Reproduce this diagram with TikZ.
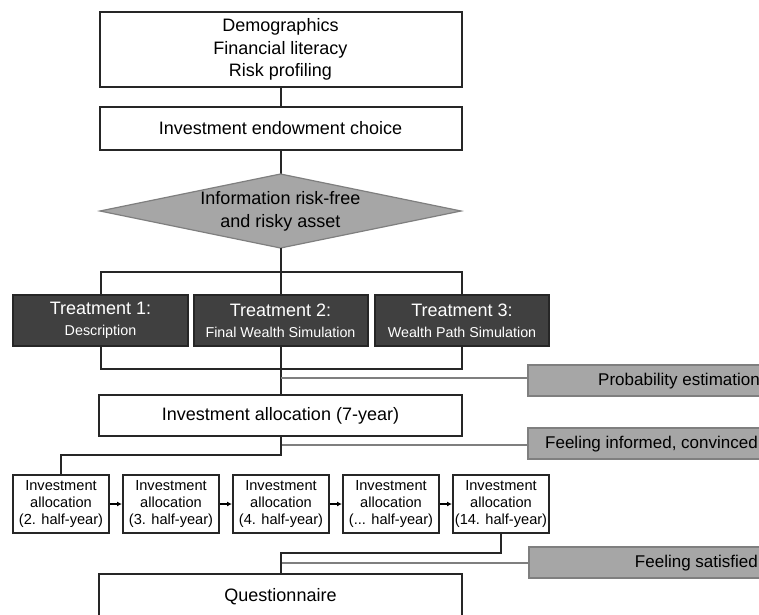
\documentclass[tikz,border=0pt]{standalone}
\usepackage{fontspec}
\setmainfont{Liberation Sans}
\usetikzlibrary{arrows.meta}
\definecolor{boxline}{HTML}{262626}
\definecolor{treatfill}{HTML}{404040}
\definecolor{greyfill}{HTML}{A6A6A6}
\definecolor{greyline}{HTML}{7F7F7F}
\begin{document}
\begin{tikzpicture}[x=1pt,y=-1pt,
  wbox/.style={draw=boxline,line width=2pt,fill=white,inner sep=0pt,align=center,
    font=\fontsize{18}{22.5}\selectfont},
  tbox/.style={draw=boxline,line width=2pt,fill=treatfill,text=white,inner sep=0pt,align=center,
    minimum width=174pt,minimum height=51pt,font=\fontsize{18}{22}\selectfont},
  sbox/.style={draw=boxline,line width=2pt,fill=white,inner sep=0pt,align=center,
    minimum width=96pt,minimum height=58pt,font=\fontsize{14.6}{17}\selectfont},
  gbox/.style={draw=greyline,line width=2pt,fill=greyfill,inner sep=0pt,
    minimum width=262pt,minimum height=31pt},
  gtext/.style={inner sep=0pt,anchor=east,font=\fontsize{17}{20}\selectfont},
  conn/.style={draw=boxline,line width=2pt},
  gconn/.style={draw=greyline,line width=2pt},
  arr/.style={draw=black,line width=2pt,-{Latex[length=5pt,width=5pt]}},
]
\clip (0,0) rectangle (759,614);
\fill[white] (0,0) rectangle (759,614);

\coordinate (infoT) at (280.5,174);
\coordinate (infoB) at (280.5,248);
\coordinate (brT) at (280.5,272);
\coordinate (brB) at (280.5,369);
\coordinate (c1) at (280.5,378);
\coordinate (c2) at (280.5,445);
\coordinate (j1) at (280.5,455);
\coordinate (j2) at (280.5,553);
\coordinate (c3) at (280.5,563);

\node[wbox,minimum width=362pt,minimum height=75pt] (demo) at (280.5,49.5)
  {Demographics\\Financial literacy\\Risk profiling};
\node[wbox,minimum width=362pt,minimum height=43pt] (endow) at (280.5,128.5)
  {Investment endowment choice};

\draw[conn] (demo.south) -- (endow.north);
\draw[conn] (endow.south) -- (infoT);

\filldraw[fill=greyfill,draw=greyline,line width=1.2pt]
  (100,211) -- (infoT) -- (461,211) -- (infoB) -- cycle;
\node[inner sep=0pt,align=center,font=\fontsize{18}{23}\selectfont] (info) at (280.5,211)
  {Information risk-free\\and risky asset};

\node[tbox,minimum width=175pt] (t1) at (100.5,320.5)
  {Treatment 1:\\[-1pt]{\fontsize{14.3}{17}\selectfont Description}};
\node[tbox] (t2) at (280.5,320.5)
  {Treatment 2:\\[-1pt]{\fontsize{14.3}{17}\selectfont Final Wealth Simulation}};
\node[tbox] (t3) at (462,320.5)
  {Treatment 3:\\[-1pt]{\fontsize{14.3}{17}\selectfont Wealth Path Simulation}};

\draw[conn] (infoB) -- (t2.north);
\draw[conn] (t1.north) |- (brT) -| (t3.north);
\draw[conn] (t1.south) |- (brB) -| (t3.south);

\node[wbox,minimum width=363pt,minimum height=41pt] (alloc) at (280.5,415.5)
  {Investment allocation (7-year)};
\draw[conn] (t2.south) -- (alloc.north);

\node[gbox] (prob) at (659,380.5) {};
\node[gtext] (probt) at (760,381) {Probability estimation};
\draw[gconn] (c1) -- (c1 -| prob.west);

\node[gbox] (inf) at (659,443.5) {};
\node[gtext] (inft) at (758,444) {Feeling informed, convinced};
\draw[gconn] (c2) -- (c2 -| inf.west);

\node[sbox] (s1) at (61,504) {Investment\\allocation\\(2. half-year)};
\node[sbox] (s2) at (171,504) {Investment\\allocation\\(3. half-year)};
\node[sbox] (s3) at (281,504) {Investment\\allocation\\(4. half-year)};
\node[sbox] (s4) at (391,504) {Investment\\allocation\\(... half-year)};
\node[sbox] (s5) at (501,504) {Investment\\allocation\\(14. half-year)};

\draw[conn] (alloc.south) |- (j1) -| (s1.north);
\draw[arr] (s1.east) -- (s2.west);
\draw[arr] (s2.east) -- (s3.west);
\draw[arr] (s3.east) -- (s4.west);
\draw[arr] (s4.east) -- (s5.west);

\node[gbox] (sat) at (660,562.5) {};
\node[gtext] (satt) at (758,563) {Feeling satisfied};
\draw[gconn] (c3) -- (c3 -| sat.west);

\node[wbox,minimum width=363pt,minimum height=46pt] (quest) at (280.5,597)
  {Questionnaire};
\draw[conn] (s5.south) |- (j2) -| (quest.north);
\end{tikzpicture}
\end{document}
